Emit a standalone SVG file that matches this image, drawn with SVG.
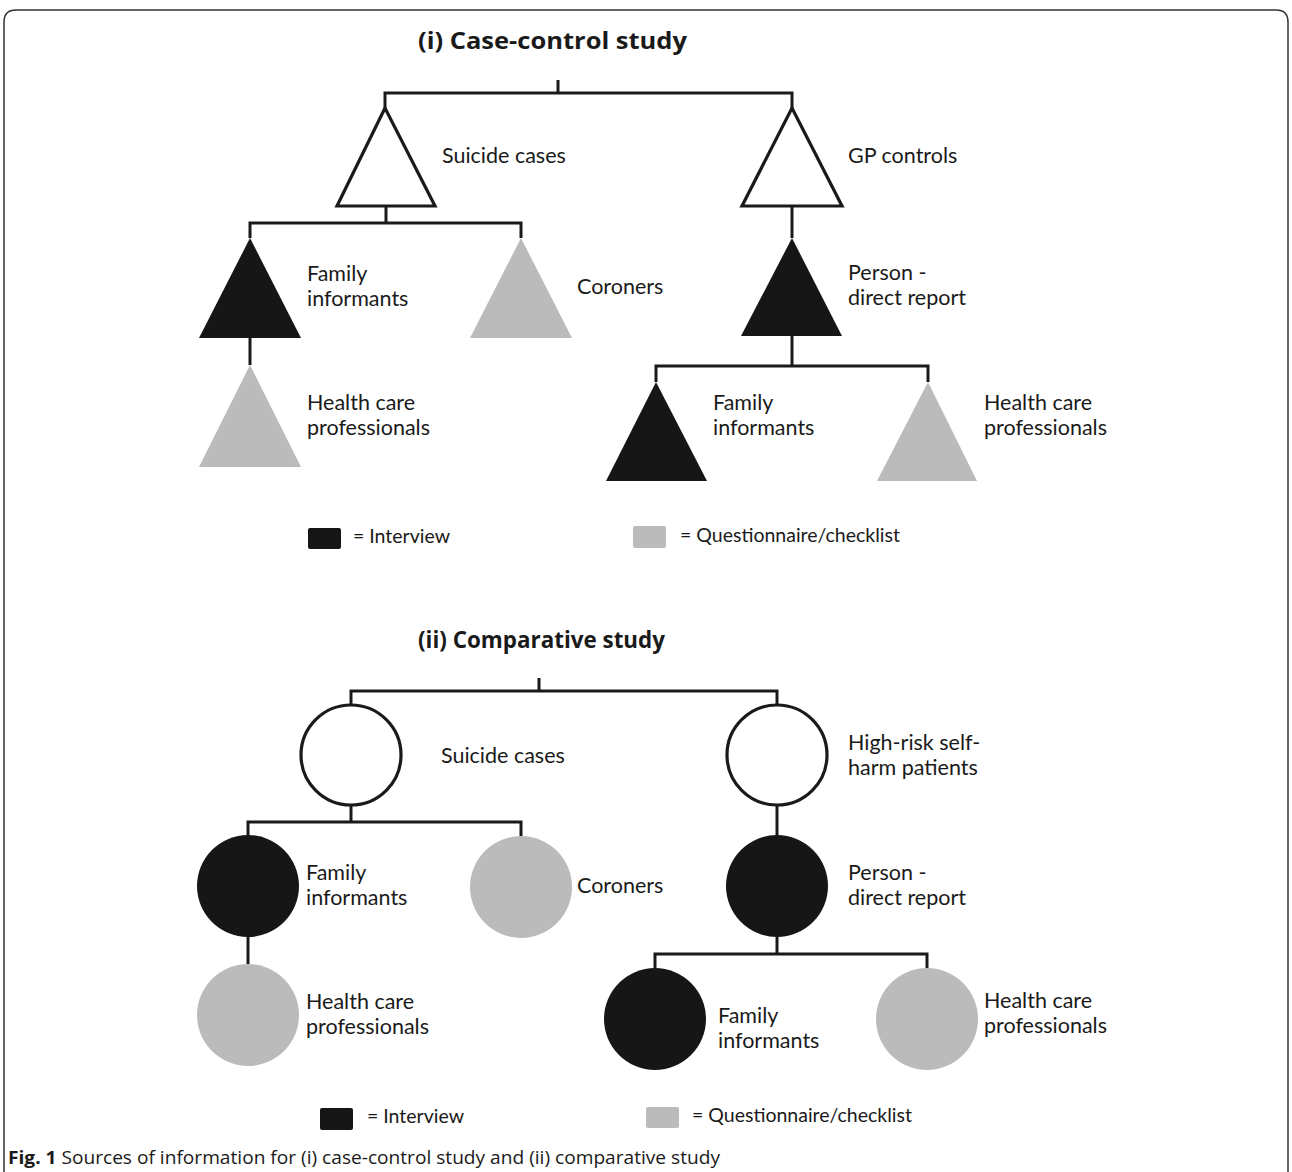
<svg xmlns="http://www.w3.org/2000/svg" width="1292" height="1172" viewBox="0 0 1292 1172">
<style>
text{font-family:Lato,"Open Sans","Liberation Sans",sans-serif;fill:#1a1a1a}
.lbl{font-size:21.5px}
.ttl{font-family:"Open Sans","Liberation Sans",sans-serif;font-size:24px;font-weight:bold}
.leg{font-size:19.5px}
.cap{font-family:"Open Sans","Liberation Sans",sans-serif;font-size:18px}
.conn path{fill:none;stroke:#1a1a1a;stroke-width:3}
.open{fill:#fff;stroke:#1a1a1a;stroke-width:3.2}
.blk{fill:#161616}
.gry{fill:#bbbbbb}
</style>
<rect width="1292" height="1172" fill="#fff"/>
<path d="M4,1172 V22 Q4,10 16,10 H1276 Q1288,10 1288,22 V1172" fill="none" stroke="#333" stroke-width="1.5"/>

<text class="ttl" x="418" y="49" textLength="269" lengthAdjust="spacingAndGlyphs">(i) Case-control study</text>
<text class="ttl" x="418" y="648" textLength="247" lengthAdjust="spacingAndGlyphs">(ii) Comparative study</text>

<g class="conn" id="connectors">
<path d="M558,80 V93"/>
<path d="M385,108 V93 H792 V108"/>
<path d="M386,206 V223"/>
<path d="M250,238 V223 H521 V238"/>
<path d="M250,338 V365"/>
<path d="M792,206 V238"/>
<path d="M792,336 V366"/>
<path d="M656,382 V366 H928 V382"/>
<path d="M539,678 V691"/>
<path d="M351,705 V691 H777 V705"/>
<path d="M351,805 V822"/>
<path d="M248,835 V822 H521 V836"/>
<path d="M248,937 V964"/>
<path d="M777,805 V836"/>
<path d="M777,937 V954"/>
<path d="M655,968 V954 H927 V968"/>
</g>

<g id="cc-suicide"><polygon class="open" points="385,108 337,206 435,206"/><text class="lbl" x="442" y="163">Suicide cases</text></g>
<g id="cc-gp"><polygon class="open" points="792,108 742,206 842,206"/><text class="lbl" x="848" y="163">GP controls</text></g>
<g id="cc-family"><polygon class="blk" points="250,238 199,338 301,338"/><text class="lbl" x="307" y="281">Family</text><text class="lbl" x="307" y="306">informants</text></g>
<g id="cc-coroners"><polygon class="gry" points="521,238 470,338 572,338"/><text class="lbl" x="577" y="294">Coroners</text></g>
<g id="cc-hcp"><polygon class="gry" points="250,365 199,467 301,467"/><text class="lbl" x="307" y="410">Health care</text><text class="lbl" x="307" y="435">professionals</text></g>
<g id="cc-person"><polygon class="blk" points="792,238 741,336 842,336"/><text class="lbl" x="848" y="280">Person -</text><text class="lbl" x="848" y="305">direct report</text></g>
<g id="cc-family2"><polygon class="blk" points="656,382 606,481 707,481"/><text class="lbl" x="713" y="410">Family</text><text class="lbl" x="713" y="435">informants</text></g>
<g id="cc-hcp2"><polygon class="gry" points="928,382 877,481 977,481"/><text class="lbl" x="984" y="410">Health care</text><text class="lbl" x="984" y="435">professionals</text></g>

<g id="legend1">
<rect class="blk" x="308" y="528" width="33" height="21" rx="2"/><text class="leg" x="353" y="543">= Interview</text>
<rect class="gry" x="633" y="526" width="33" height="22" rx="2"/><text class="leg" x="680" y="542">= Questionnaire/checklist</text>
</g>

<g id="cs-suicide"><circle class="open" cx="351" cy="755" r="50"/><text class="lbl" x="441" y="763">Suicide cases</text></g>
<g id="cs-highrisk"><circle class="open" cx="777" cy="755" r="50"/><text class="lbl" x="848" y="750">High-risk self-</text><text class="lbl" x="848" y="775">harm patients</text></g>
<g id="cs-family"><circle class="blk" cx="248" cy="886" r="51"/><text class="lbl" x="306" y="880">Family</text><text class="lbl" x="306" y="905">informants</text></g>
<g id="cs-coroners"><circle class="gry" cx="521" cy="887" r="51"/><text class="lbl" x="577" y="893">Coroners</text></g>
<g id="cs-hcp"><circle class="gry" cx="248" cy="1015" r="51"/><text class="lbl" x="306" y="1009">Health care</text><text class="lbl" x="306" y="1034">professionals</text></g>
<g id="cs-person"><circle class="blk" cx="777" cy="886" r="51"/><text class="lbl" x="848" y="880">Person -</text><text class="lbl" x="848" y="905">direct report</text></g>
<g id="cs-family2"><circle class="blk" cx="655" cy="1019" r="51"/><text class="lbl" x="718" y="1023">Family</text><text class="lbl" x="718" y="1048">informants</text></g>
<g id="cs-hcp2"><circle class="gry" cx="927" cy="1019" r="51"/><text class="lbl" x="984" y="1008">Health care</text><text class="lbl" x="984" y="1033">professionals</text></g>

<g id="legend2">
<rect class="blk" x="320" y="1108" width="33" height="22" rx="2"/><text class="leg" x="367" y="1123">= Interview</text>
<rect class="gry" x="646" y="1107" width="33" height="21" rx="2"/><text class="leg" x="692" y="1122">= Questionnaire/checklist</text>
</g>

<text class="cap" x="8" y="1164" textLength="712" lengthAdjust="spacingAndGlyphs"><tspan font-weight="bold">Fig. 1</tspan> Sources of information for (i) case-control study and (ii) comparative study</text>
</svg>
